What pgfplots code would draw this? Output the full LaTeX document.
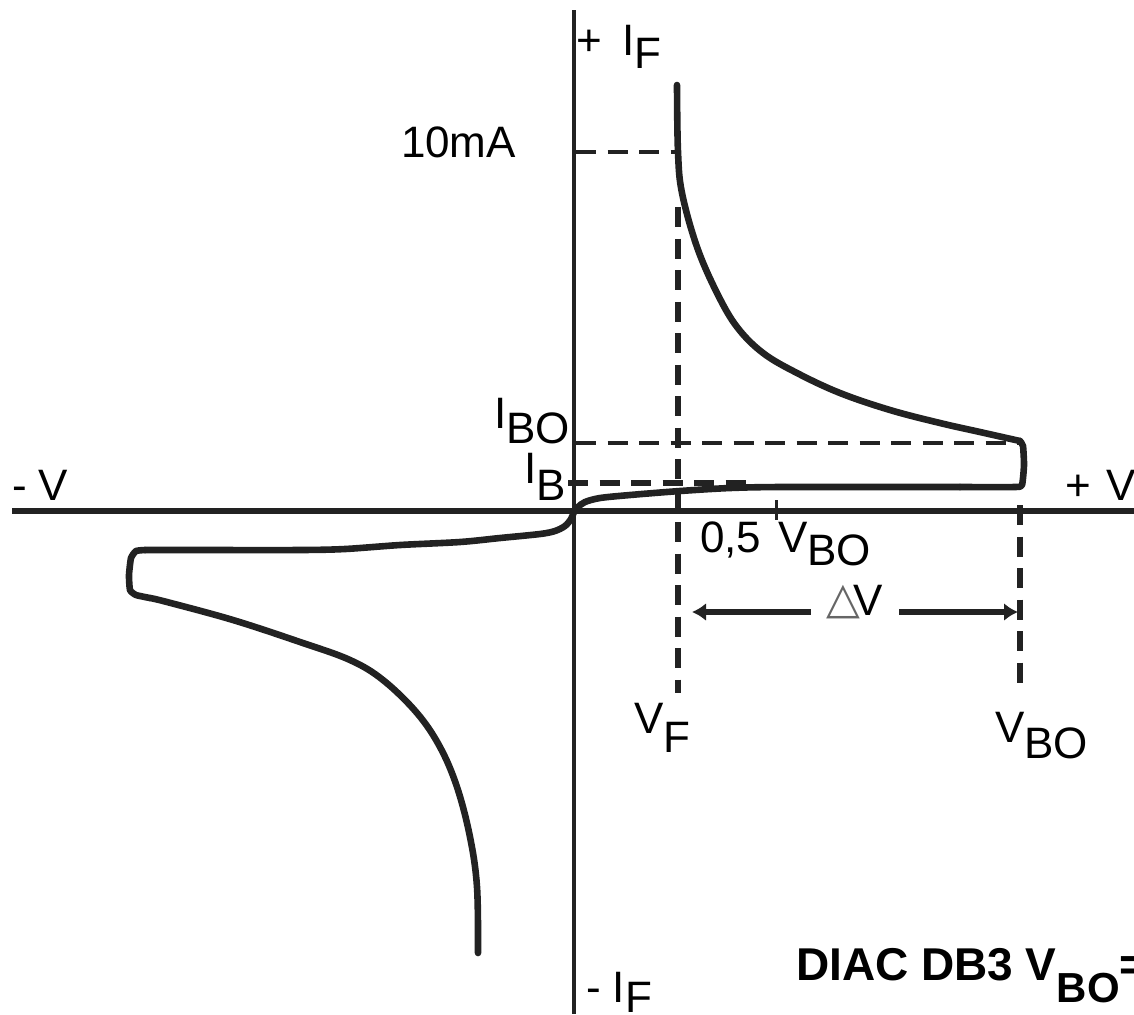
\documentclass[border=0pt]{standalone}
\usepackage{pgfplots}
\pgfplotsset{compat=1.18}
\usepackage{fontspec}
\setmainfont{Liberation Sans}
\newfontfamily\dejavu{DejaVu Sans}
\usetikzlibrary{arrows.meta}
\definecolor{ink}{HTML}{222222}
\tikzset{lab/.style={anchor=base west, inner sep=0pt, outer sep=0pt, text=black,
               font=\fontsize{22}{26}\selectfont}}
\begin{document}
\begin{tikzpicture}
\begin{axis}[
  width=567pt, height=507pt, scale only axis,
  xmin=0, xmax=1134, ymin=0, ymax=1014, y dir=reverse,
  hide axis, clip=false,
  curve/.style={line width=3.3pt, ink, line join=round, line cap=round},
]
\coordinate (bl) at (axis cs:0,1014);
\coordinate (tr) at (axis cs:1134,0);
% axes
\addplot[line width=3.3pt, ink] coordinates {(12,511) (1134,511)};
\addplot[line width=2pt, ink] coordinates {(574,10) (574,1014)};
% dashed guide lines
\addplot[line width=1.6pt, ink, dash pattern=on 10pt off 5.75pt] coordinates {(576,152) (676,152)};
\addplot[line width=1.6pt, ink, dash pattern=on 10pt off 5.75pt] coordinates {(576,443) (1020,443)};
\addplot[line width=2.8pt, ink, dash pattern=on 10pt off 5.75pt] coordinates {(568,483) (750,483)};
\addplot[line width=3pt, ink, dash pattern=on 10pt off 5.75pt] coordinates {(678,207) (678,693)};
\addplot[line width=3pt, ink, dash pattern=on 10pt off 5.75pt] coordinates {(1020,505) (1020,693)};
\addplot[line width=1.5pt, ink] coordinates {(776,500) (776,520)};
% characteristic curve: upper branch
\addplot[curve, smooth, tension=0.6] coordinates {
(677,85) (678,152) (682,193) (697,247) (717,293)
(737,327) (763,353) (797,373) (840,393) (890,410) (940,423) (980,432) (1020,441)
};
% right corner and return
\addplot[curve, smooth, tension=0.3] coordinates {
(1020,441) (1023,446) (1024,465) (1022,485) (1015,487) (960,487)
};
% return line through the origin to the left
\addplot[curve, smooth, tension=0.5] coordinates {
(960,487) (900,487) (780,487) (730,488) (680,491)
(630,495) (600,498) (585,502) (578,507) (574,512) (571,519) (565,526) (555,531)
(540,534) (500,538) (460,542) (400,545) (345,549) (300,550) (200,550) (145,550)
};
% left corner
\addplot[curve, smooth, tension=0.3] coordinates {
(145,550) (136,551) (131,558) (129,575) (130,590) (136,595) (150,598)
};
% lower branch
\addplot[curve, smooth, tension=0.6] coordinates {
(150,598) (167,602) (233,620) (300,642) (350,660)
(383,680) (417,713) (440,747) (457,787) (470,837) (477,887) (478,953)
};
% Delta V arrows
\addplot[line width=3pt, ink, {Latex[length=7pt,width=9pt]}-] coordinates {(692,612) (811,612)};
\addplot[line width=3pt, ink, -{Latex[length=7pt,width=9pt]}] coordinates {(899,612) (1018,612)};
% labels
\node[lab] at (axis cs:576,55) {+\hspace{10.5pt}I\raisebox{-6.5pt}{F}};
\node[lab] at (axis cs:401,157) {10mA};
\node[lab] at (axis cs:494,428) {I\raisebox{-7.5pt}{BO}};
\node[lab] at (axis cs:524,483) {I\raisebox{-8.5pt}{B}};
\node[lab] at (axis cs:12,500) {- V};
\node[lab] at (axis cs:1065,500) {+\hspace{8pt}V};
\node[lab] at (axis cs:700,552) {0,5};
\node[lab] at (axis cs:778,552) {V\raisebox{-6.5pt}{BO}};
\node[lab, text=black!60] at (axis cs:826,613) {\dejavu △};
\node[lab] at (axis cs:853,615) {V};
\node[lab] at (axis cs:634,733) {V\raisebox{-9.5pt}{F}};
\node[lab] at (axis cs:995,742) {V\raisebox{-8pt}{BO}};
\node[lab] at (axis cs:586,1002) {- I\raisebox{-5pt}{F}};
\node[lab, font=\fontsize{23}{27}\selectfont\bfseries] at (axis cs:796,980)
  {DIAC DB3 V\raisebox{-11pt}{\fontsize{21}{25}\selectfont BO}=};
\end{axis}
\pgfresetboundingbox
\useasboundingbox (bl) rectangle (tr);
\end{tikzpicture}
\end{document}
